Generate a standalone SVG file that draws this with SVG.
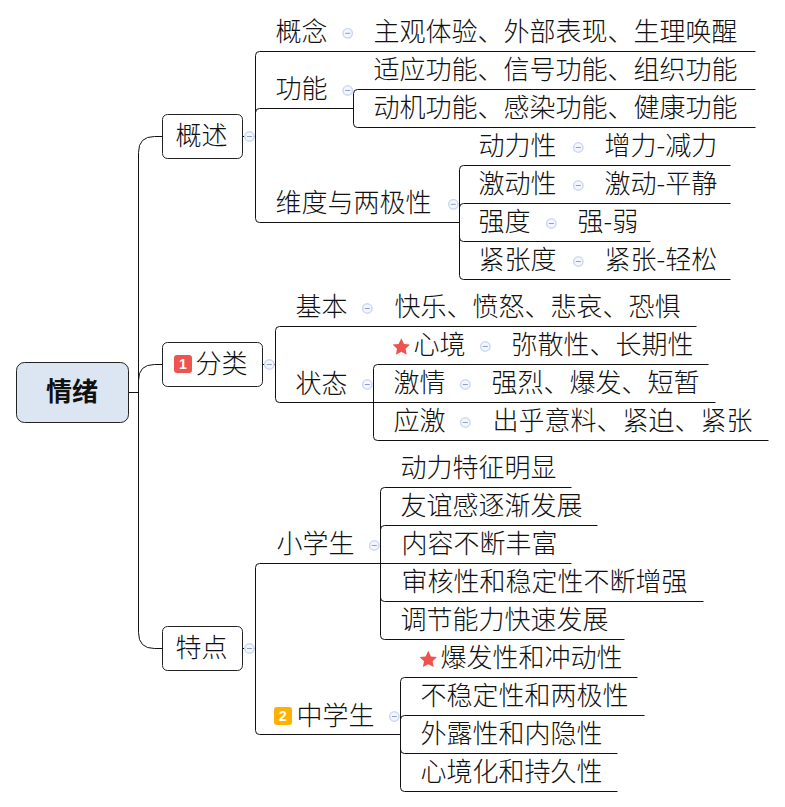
<svg xmlns="http://www.w3.org/2000/svg" width="785" height="807" viewBox="0 0 785 807">
<defs><g id="c"><circle r="4.700" fill="#f4f6fd" stroke="#cdd8f2" stroke-width="1.500"/><path d="M-2.500 0H2.500" stroke="#8e9fc4" stroke-width="1"/></g>
<path id="s" d="M0-9L2.700-3.300 8.700-2.700 4.300 1.500 5.400 7.400 0 4.500-5.400 7.400-4.300 1.500-8.700-2.700-2.700-3.300Z" fill="#ef5350"/></defs>
<style>text{font-family:"Noto Sans CJK SC","Liberation Sans",sans-serif;font-size:26px;font-weight:300;fill:#111}.r{font-weight:700}.l{fill:none;stroke:#111;stroke-width:1}.b{fill:#fff;stroke:#222;stroke-width:1}.n{font-size:14px;font-weight:700;fill:#fff;font-family:"Liberation Sans",sans-serif;text-anchor:middle}</style>
<rect width="785" height="807" fill="#fff"/>
<g id="connectors" class="l" transform="translate(.5 .5)">
<path d="M128 392H138M162 136H154Q138 136 138 152V632Q138 648 154 648H162M138 380Q138 364 154 364H162"/>
<path d="M242 136H255M259 51Q255 51 255 55V218Q255 222 259 222H459M755 51H259M255 112Q255 108 259 108H353"/>
<path d="M755 89H357Q353 89 353 93V123Q353 127 357 127H755"/>
<path d="M730 165H463Q459 165 459 169V275Q459 279 463 279H730M730 203H463Q459 203 459 207V237Q459 241 463 241H650"/>
<path d="M262 364H275M279 326Q275 326 275 330V398Q275 402 279 402H715M696 326H279"/>
<path d="M708 364H377Q373 364 373 368V436Q373 440 377 440H768"/>
<path d="M242 648H255M259 563Q255 563 255 567V730Q255 734 259 734H400M571 563H259"/>
<path d="M571 487H384Q380 487 380 491V635Q380 639 384 639H624M597 525H384Q380 525 380 529M380 597Q380 601 384 601H703"/>
<path d="M637 677H404Q400 677 400 681V787Q400 791 404 791H617M644 715H404Q400 715 400 719V749Q400 753 404 753H617"/>
</g>
<g id="root"><rect x="16.500" y="362.500" width="112" height="60" rx="8" fill="#dce6f2" stroke="#222" stroke-width="1"/><text class="r" x="46" y="401">情绪</text></g>
<g id="n1"><rect class="b" x="162.500" y="114.500" width="80" height="44" rx="5"/><text x="175.500" y="145">概述</text><use href="#c" x="249.500" y="136.500"/></g>
<g id="n2"><rect class="b" x="162.500" y="342.500" width="100" height="44" rx="5"/><rect x="174" y="355" width="18" height="18" rx="3" fill="#ef5350"/><text class="n" x="183" y="369">1</text><text x="195.500" y="373">分类</text><use href="#c" x="269.300" y="364.500"/></g>
<g id="n3"><rect class="b" x="162.500" y="626.500" width="80" height="44" rx="5"/><text x="175.500" y="657">特点</text><use href="#c" x="249.500" y="648.500"/></g>
<g id="t1">
<text x="275.500" y="41">概念</text><use href="#c" x="347.700" y="33.300"/><text x="373.500" y="41">主观体验、外部表现、生理唤醒</text>
<text x="275.500" y="98">功能</text><use href="#c" x="347.700" y="90.500"/><text x="373.500" y="79">适应功能、信号功能、组织功能</text><text x="373.500" y="117">动机功能、感染功能、健康功能</text>
<text x="275.500" y="212">维度与两极性</text><use href="#c" x="453.300" y="204.300"/>
<text x="478.500" y="155">动力性</text><use href="#c" x="578.300" y="147.500"/><text x="604.500" y="155">增力-减力</text>
<text x="478.500" y="193">激动性</text><use href="#c" x="578.300" y="185.500"/><text x="604.500" y="193">激动-平静</text>
<text x="478.500" y="231">强度</text><use href="#c" x="551.300" y="223.500"/><text x="577.500" y="231">强-弱</text>
<text x="478.500" y="269">紧张度</text><use href="#c" x="578.300" y="261.500"/><text x="604.500" y="269">紧张-轻松</text>
</g>
<g id="t2">
<text x="295.500" y="316">基本</text><use href="#c" x="367.300" y="308.500"/><text x="394.500" y="316">快乐、愤怒、悲哀、恐惧</text>
<text x="295.500" y="393">状态</text><use href="#c" x="367.300" y="384.500"/>
<use href="#s" x="401.300" y="347.300"/><text x="413.500" y="354">心境</text><use href="#c" x="485.300" y="346.500"/><text x="511.500" y="354">弥散性、长期性</text>
<text x="393.500" y="392">激情</text><use href="#c" x="465.300" y="384.500"/><text x="491.500" y="392">强烈、爆发、短暂</text>
<text x="393.500" y="430">应激</text><use href="#c" x="465.300" y="422.500"/><text x="492.500" y="430">出乎意料、紧迫、紧张</text>
</g>
<g id="t3">
<text x="276.500" y="553">小学生</text><use href="#c" x="374.300" y="545.500"/>
<text x="400.500" y="477">动力特征明显</text><text x="400.500" y="515">友谊感逐渐发展</text><text x="401.500" y="553">内容不断丰富</text><text x="401.500" y="591">审核性和稳定性不断增强</text><text x="400.500" y="629">调节能力快速发展</text>
<rect x="274" y="707" width="18" height="18" rx="3" fill="#ffb000"/><text class="n" x="283" y="721">2</text><text x="296.500" y="725">中学生</text><use href="#c" x="394.300" y="716.500"/>
<use href="#s" x="428.300" y="659.700"/><text x="440.500" y="667">爆发性和冲动性</text><text x="420.500" y="705">不稳定性和两极性</text><text x="420.500" y="743">外露性和内隐性</text><text x="420.500" y="781">心境化和持久性</text>
</g>
</svg>
